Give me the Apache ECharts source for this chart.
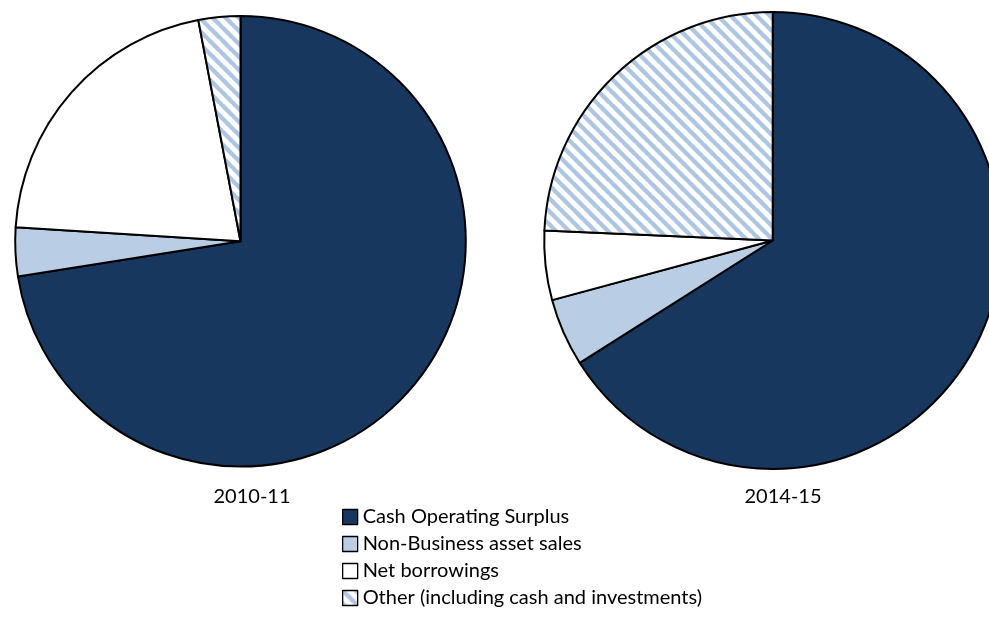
<!DOCTYPE html>
<html>
<head>
<meta charset="utf-8">
<script src="https://cdn.jsdelivr.net/npm/echarts@6/dist/echarts.min.js"></script>
<style>
  html, body { margin: 0; padding: 0; background: #ffffff; }
  #chart { width: 989px; height: 629px; }
</style>
</head>
<body>
<div id="chart"></div>
<script>
// Sources of funding, share of total (%)
const categories = [
  'Cash Operating Surplus',
  'Non-Business asset sales',
  'Net borrowings',
  'Other (including cash and investments)'
];
const years = ['2010-11', '2014-15'];
const values2010 = [72.5, 3.5, 21.0, 3.0];
const values2015 = [66.0, 4.8, 4.9, 24.3];

// Diagonal hatch tile for the "Other" slice
function hatchTile() {
  const s = 13;
  const c = document.createElement('canvas');
  c.width = s; c.height = s;
  const g = c.getContext('2d');
  g.fillStyle = '#ffffff';
  g.fillRect(0, 0, s, s);
  g.strokeStyle = '#afc6e3';
  g.lineWidth = 4.4;
  g.beginPath();
  for (let k = -1; k <= 1; k++) {
    g.moveTo(k * s - 1, -1);
    g.lineTo(k * s + s + 1, s + 1);
  }
  g.stroke();
  return c;
}

const fills = [
  '#17375e',
  '#b9cde5',
  '#ffffff',
  { image: hatchTile(), repeat: 'repeat' }
];

function pieData(vals) {
  return categories.map((name, i) => ({
    name,
    value: vals[i],
    itemStyle: { color: fills[i] }
  }));
}

const font = 'Lato, "Open Sans", sans-serif';
const textStyle = { fontFamily: font, fontSize: 20, fontWeight: 'normal', color: '#000' };

const chart = echarts.init(document.getElementById('chart'), null, { renderer: 'canvas' });
chart.setOption({
  animation: false,
  backgroundColor: '#ffffff',
  title: [
    { text: years[0], left: 247, top: 482, textAlign: 'center', textStyle },
    { text: years[1], left: 778, top: 482, textAlign: 'center', textStyle }
  ],
  legend: {
    orient: 'vertical',
    left: 337,
    top: 501,
    itemWidth: 15,
    itemHeight: 15,
    itemGap: 5,
    icon: 'rect',
    selectedMode: false,
    data: categories,
    itemStyle: { borderColor: '#000', borderWidth: 1.3 },
    textStyle: { fontFamily: font, fontSize: 20, color: '#000', lineHeight: 22 }
  },
  series: [
    {
      type: 'pie',
      center: [240.5, 241.3],
      radius: 225.3,
      startAngle: 90,
      clockwise: true,
      label: { show: false },
      labelLine: { show: false },
      emphasis: { disabled: true },
      itemStyle: { borderColor: '#000', borderWidth: 2 },
      data: pieData(values2010)
    },
    {
      type: 'pie',
      center: [772.7, 240.5],
      radius: 228.5,
      startAngle: 90,
      clockwise: true,
      label: { show: false },
      labelLine: { show: false },
      emphasis: { disabled: true },
      itemStyle: { borderColor: '#000', borderWidth: 2 },
      data: pieData(values2015)
    }
  ]
});
</script>
</body>
</html>
